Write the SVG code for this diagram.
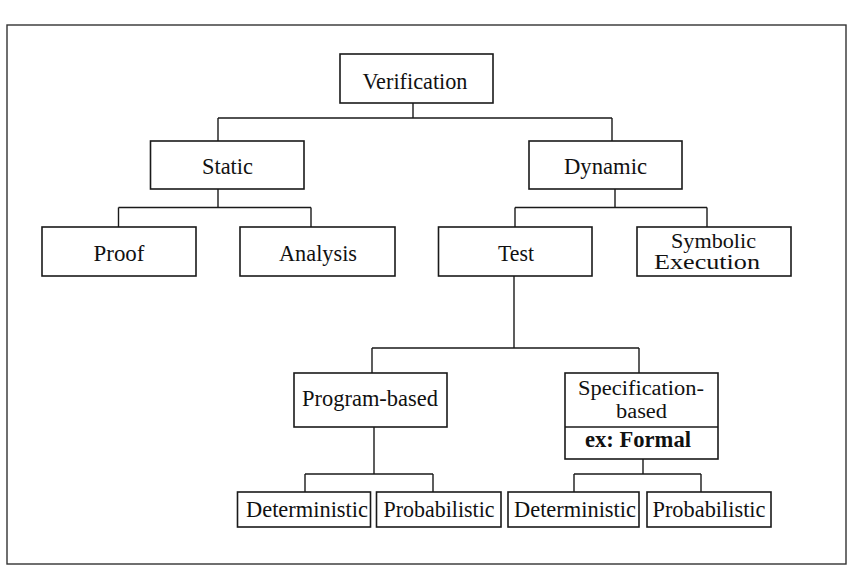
<svg xmlns="http://www.w3.org/2000/svg" width="850" height="583" viewBox="0 0 850 583">
<style>
.box{fill:#fff;stroke:#1a1a1a;stroke-width:1.6}
.t{font-family:'Liberation Serif',Tinos,'Times New Roman',Times,serif;font-size:23px;fill:#111;text-anchor:middle}
.s{font-size:20.5px}
.b{font-weight:bold}
.c{fill:none;stroke:#1a1a1a;stroke-width:1.4}
</style>
<rect x="0" y="0" width="850" height="583" fill="#fff"/>
<rect x="7" y="25" width="839" height="539" fill="none" stroke="#333" stroke-width="1.4"/>
<g id="connectors">
<path class="c" d="M413 103V118M218 118H612M218 118V141M612 118V141"/>
<path class="c" d="M218 189V207.5M118.5 207.5H311M118.5 207.5V227M311 207.5V227"/>
<path class="c" d="M615 189V207.5M515 207.5H707M515 207.5V227M707 207.5V227"/>
<path class="c" d="M514 276V348M372 348H639M372 348V373M639 348V373"/>
<path class="c" d="M374 427V474M305 474H433M305 474V492M433 474V492"/>
<path class="c" d="M643 459V474M574 474H701M574 474V492M701 474V492"/>
</g>
<g id="verification"><rect class="box" x="340" y="54" width="153" height="49"/><text class="t" x="415" y="88.5" textLength="105" lengthAdjust="spacingAndGlyphs">Verification</text></g>
<g id="static"><rect class="box" x="150.5" y="141" width="153.5" height="48"/><text class="t" x="227.5" y="174" textLength="51" lengthAdjust="spacingAndGlyphs">Static</text></g>
<g id="dynamic"><rect class="box" x="529" y="141" width="153" height="48"/><text class="t" x="605.5" y="174" textLength="83" lengthAdjust="spacingAndGlyphs">Dynamic</text></g>
<g id="proof"><rect class="box" x="42" y="227" width="154" height="49"/><text class="t" x="119" y="261" textLength="51" lengthAdjust="spacingAndGlyphs">Proof</text></g>
<g id="analysis"><rect class="box" x="240" y="227" width="155" height="49"/><text class="t" x="318" y="261" textLength="78" lengthAdjust="spacingAndGlyphs">Analysis</text></g>
<g id="test"><rect class="box" x="438.5" y="227" width="153.5" height="49"/><text class="t" x="516" y="261" textLength="36" lengthAdjust="spacingAndGlyphs">Test</text></g>
<g id="symbolic"><rect class="box" x="637" y="227" width="154" height="49"/><text class="t s" x="713.5" y="248" textLength="85" lengthAdjust="spacingAndGlyphs">Symbolic</text><text class="t s" x="707" y="268.5" textLength="106" lengthAdjust="spacingAndGlyphs">Execution</text></g>
<g id="program-based"><rect class="box" x="294" y="373" width="153" height="54"/><text class="t" x="370" y="406" textLength="136" lengthAdjust="spacingAndGlyphs">Program-based</text></g>
<g id="specification-based"><rect class="box" x="565" y="373" width="153" height="86"/><line class="c" x1="565" y1="427" x2="718" y2="427" stroke-width="1.6"/><text class="t s" x="641" y="395" textLength="126" lengthAdjust="spacingAndGlyphs">Specification-</text><text class="t s" x="641.5" y="417.5" textLength="51" lengthAdjust="spacingAndGlyphs">based</text><text class="t b" x="638" y="446.5" textLength="106" lengthAdjust="spacingAndGlyphs">ex: Formal</text></g>
<g id="deterministic1"><rect class="box" x="237.5" y="492" width="133" height="35"/><text class="t" x="307" y="516.5" textLength="122" lengthAdjust="spacingAndGlyphs">Deterministic</text></g>
<g id="probabilistic1"><rect class="box" x="376.5" y="492" width="124.5" height="35"/><text class="t" x="439" y="516.5" textLength="111" lengthAdjust="spacingAndGlyphs">Probabilistic</text></g>
<g id="deterministic2"><rect class="box" x="508" y="492" width="131" height="35"/><text class="t" x="575" y="516.5" textLength="122" lengthAdjust="spacingAndGlyphs">Deterministic</text></g>
<g id="probabilistic2"><rect class="box" x="647" y="492" width="124" height="35"/><text class="t" x="709" y="516.5" textLength="113" lengthAdjust="spacingAndGlyphs">Probabilistic</text></g>
</svg>
